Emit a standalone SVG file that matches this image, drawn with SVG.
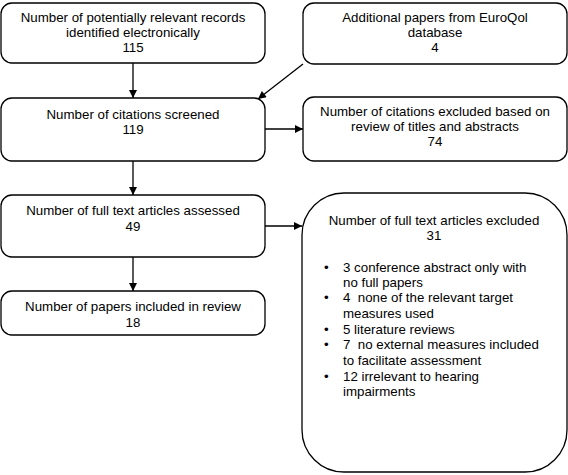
<svg xmlns="http://www.w3.org/2000/svg" width="568" height="475" viewBox="0 0 568 475">
<defs>
<marker id="ah" viewBox="0 0 10 10" refX="10" refY="5" markerWidth="9" markerHeight="8" markerUnits="userSpaceOnUse" orient="auto">
<path d="M0,0 L10,5 L0,10 z" fill="#000"/>
</marker>
<style>
.box{fill:#fff;stroke:#000;stroke-width:1.3}
text{font-family:"Liberation Sans",Arial,sans-serif;font-size:13.3px;fill:#000;white-space:pre}
.c{text-anchor:middle}
.ln{stroke:#000;stroke-width:1.3;fill:none;marker-end:url(#ah)}
</style>
</defs>
<rect width="568" height="475" fill="#fff"/>
<g id="n1">
<rect class="box" x="1" y="3" width="264" height="60" rx="11"/>
<text class="c" x="133" y="22">Number of potentially relevant records</text>
<text class="c" x="133" y="37">identified electronically</text>
<text class="c" x="133" y="52">115</text>
</g>
<g id="n2">
<rect class="box" x="303" y="3" width="264" height="61" rx="11"/>
<text class="c" x="435" y="22">Additional papers from EuroQol</text>
<text class="c" x="435" y="37">database</text>
<text class="c" x="435" y="52">4</text>
</g>
<g id="n3">
<rect class="box" x="1" y="98" width="264" height="63" rx="11"/>
<text class="c" x="133" y="119">Number of citations screened</text>
<text class="c" x="133" y="134">119</text>
</g>
<g id="n4">
<rect class="box" x="303" y="97" width="264" height="64" rx="11"/>
<text class="c" x="435" y="116">Number of citations excluded based on</text>
<text class="c" x="435" y="131">review of titles and abstracts</text>
<text class="c" x="435" y="146">74</text>
</g>
<g id="n5">
<rect class="box" x="1" y="195" width="264" height="62" rx="11"/>
<text class="c" x="133" y="215">Number of full text articles assessed</text>
<text class="c" x="133" y="231">49</text>
</g>
<g id="n6">
<rect class="box" x="1" y="291" width="264" height="44" rx="11"/>
<text class="c" x="133" y="311">Number of papers included in review</text>
<text class="c" x="133" y="327">18</text>
</g>
<g id="n7">
<rect class="box" x="302" y="193" width="265" height="279" rx="42"/>
<text class="c" x="434" y="225">Number of full text articles excluded</text>
<text class="c" x="434" y="240">31</text>
<text x="324" y="272">•</text><text x="343" y="272">3 conference abstract only with</text>
<text x="343" y="287">no full papers</text>
<text x="324" y="302">•</text><text x="343" y="302">4  none of the relevant target</text>
<text x="343" y="318">measures used</text>
<text x="324" y="334">•</text><text x="343" y="334">5 literature reviews</text>
<text x="324" y="349">•</text><text x="343" y="349">7  no external measures included</text>
<text x="343" y="365">to facilitate assessment</text>
<text x="324" y="381">•</text><text x="343" y="381">12 irrelevant to hearing</text>
<text x="343" y="396">impairments</text>
</g>
<g id="connectors">
<line class="ln" x1="133" y1="63" x2="133" y2="98"/>
<line class="ln" x1="303" y1="64" x2="258" y2="99"/>
<line class="ln" x1="265" y1="129" x2="303" y2="129"/>
<line class="ln" x1="133" y1="161" x2="133" y2="195"/>
<line class="ln" x1="265" y1="226" x2="302" y2="226"/>
<line class="ln" x1="133" y1="257" x2="133" y2="291"/>
</g>
</svg>
